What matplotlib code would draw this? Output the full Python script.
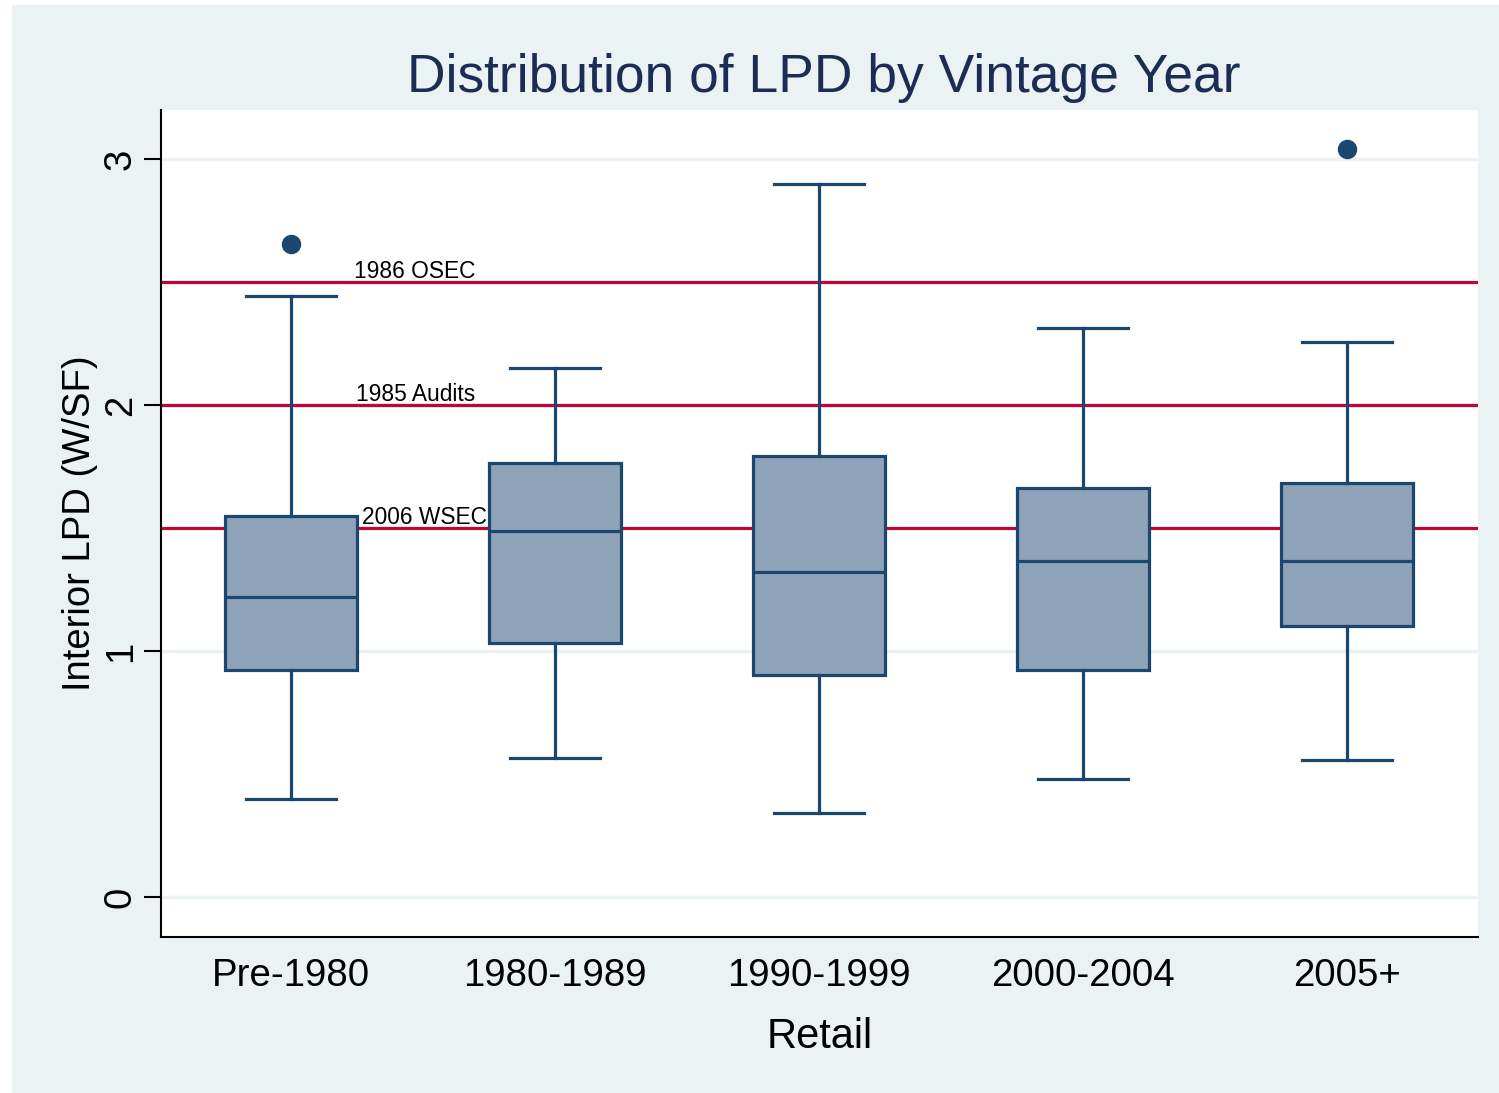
import matplotlib.pyplot as plt
from matplotlib.patches import Rectangle

# box plot summaries (W/SF)
categories = ['Pre-1980', '1980-1989', '1990-1999', '2000-2004', '2005+']
whisker_lo = [0.40, 0.565, 0.34, 0.48, 0.557]
q1 = [0.923, 1.033, 0.902, 0.923, 1.102]
median = [1.22, 1.488, 1.321, 1.366, 1.366]
q3 = [1.549, 1.764, 1.793, 1.663, 1.683]
whisker_hi = [2.443, 2.15, 2.898, 2.313, 2.256]
outliers = [[2.654], [], [], [], [3.041]]

ref_values = [2.5, 2.0, 1.5]
ref_labels = ['1986 OSEC', '1985 Audits', '2006 WSEC']

plt.rcParams['font.family'] = ['Liberation Sans', 'DejaVu Sans']

navy = '#1a476f'
fill = '#8ea3b8'
red = '#c10534'
bg = '#eaf2f3'

fig = plt.figure(figsize=(14.99, 10.93), dpi=100)
fig.patches.append(Rectangle((12 / 1499, 0), 1, 1 - 5 / 1093, transform=fig.transFigure,
                             facecolor=bg, edgecolor='none', zorder=-5))
ax = fig.add_axes([161 / 1499, 1 - 937 / 1093, 1317 / 1499, 827 / 1093])
ax.set_facecolor('white')

stats = []
for i, name in enumerate(categories):
    stats.append({'label': name, 'whislo': whisker_lo[i], 'q1': q1[i], 'med': median[i],
                  'q3': q3[i], 'whishi': whisker_hi[i], 'fliers': outliers[i]})

positions = range(1, len(categories) + 1)
lw = 2.3
ax.bxp(stats, positions=positions, widths=0.5, patch_artist=True, showfliers=True,
       boxprops=dict(facecolor=fill, edgecolor=navy, linewidth=lw),
       medianprops=dict(color=navy, linewidth=lw),
       whiskerprops=dict(color=navy, linewidth=lw),
       capprops=dict(color=navy, linewidth=lw),
       flierprops=dict(marker='o', markerfacecolor=navy, markeredgecolor=navy, markersize=13),
       capwidths=0.34, zorder=3)

for y in [0, 1, 2, 3]:
    ax.axhline(y, color=bg, linewidth=2.5, zorder=1)

label_x = [1.24, 1.245, 1.27]
for v, lab, lx in zip(ref_values, ref_labels, label_x):
    ax.axhline(v, color=red, linewidth=2.3, zorder=2)
    ax.text(lx, v + 0.015, lab, fontsize=16.4, va='baseline', ha='left', color='black', zorder=4)

ax.set_xlim(0.5075, 5.4965)
ax.set_ylim(-0.163, 3.2)
ax.set_yticks([0, 1, 2, 3])
ax.set_xticks(list(positions))
ax.set_xticklabels(categories)

for s in ['top', 'right']:
    ax.spines[s].set_visible(False)
for s in ['left', 'bottom']:
    ax.spines[s].set_linewidth(1.5)

ax.tick_params(axis='x', length=0, labelsize=27.6, pad=15)
ax.tick_params(axis='y', length=12, width=1.5, labelsize=27.5, pad=4)
plt.setp(ax.get_yticklabels(), rotation=90, va='center')

ax.set_xlabel('Retail', fontsize=30, labelpad=17)
ax.set_ylabel('Interior LPD (W/SF)', fontsize=27.5)
ax.yaxis.set_label_coords(-0.048, 0.5)
ax.set_title('Distribution of LPD by Vintage Year', fontsize=38.4, color='#1c2d55',
             pad=13, x=0.503)

fig.savefig('out.png', dpi=100)
